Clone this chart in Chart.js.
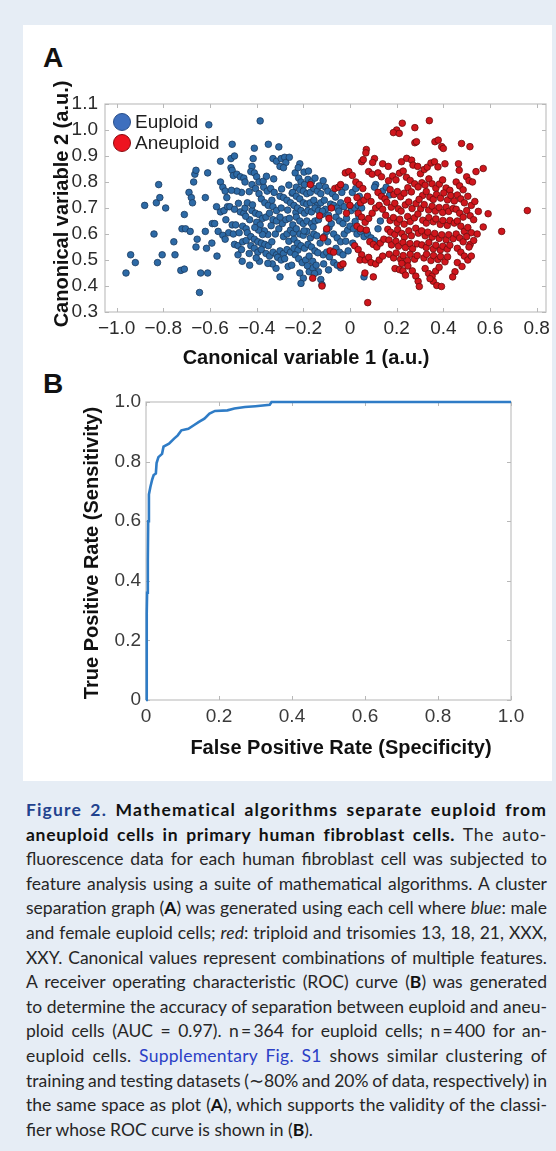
<!DOCTYPE html>
<html>
<head>
<meta charset="utf-8">
<script src="https://cdn.jsdelivr.net/npm/chart.js@4.4.0/dist/chart.umd.min.js"></script>
<style>
  html, body { margin: 0; padding: 0; }
  body {
    width: 556px; height: 1151px; position: relative; overflow: hidden;
    background: #e6edf5;
    font-family: 'Liberation Sans', Arial, sans-serif;
  }
  #panel { position: absolute; left: 23px; top: 25px; width: 529px; height: 756px; background: #fff; }
  .plot { position: absolute; left: 0; width: 556px; }
  #scatterBox { top: 0; height: 372px; }
  #rocBox { top: 372px; height: 408px; }
  .tag { position: absolute; font: bold 28px 'Liberation Sans', Arial, sans-serif; color: #111; line-height: 28px; }
  #caption {
    position: absolute; left: 26px; top: 798px; width: 521px;
    font-family: Lato, 'Open Sans', sans-serif; font-size: 17.5px; line-height: 24.6px; color: #262626;
  }
  #caption .ln { white-space: nowrap; }
  #caption b { color: #111; }
  #caption .fig { color: #22428e; }
  #caption .link { color: #2c3fc6; }
</style>
</head>
<body>
<div id="panel"></div>
<div class="tag" style="left:43px; top:44px;">A</div>
<div class="tag" style="left:43px; top:370px;">B</div>
<div class="plot" id="scatterBox"><canvas id="scatter"></canvas></div>
<div class="plot" id="rocBox"><canvas id="roc"></canvas></div>

<div id="caption">
  <div class="ln"><b class="fig">Figure 2.</b> <b>Mathematical algorithms separate euploid from</b></div>
  <div class="ln"><b>aneuploid cells in primary human fibroblast cells.</b> The auto-</div>
  <div class="ln">fluorescence data for each human fibroblast cell was subjected to</div>
  <div class="ln">feature analysis using a suite of mathematical algorithms. A cluster</div>
  <div class="ln">separation graph (<b>A</b>) was generated using each cell where <i>blue</i>: male</div>
  <div class="ln">and female euploid cells; <i>red</i>: triploid and trisomies 13, 18, 21, XXX,</div>
  <div class="ln">XXY. Canonical values represent combinations of multiple features.</div>
  <div class="ln">A receiver operating characteristic (ROC) curve (<b>B</b>) was generated</div>
  <div class="ln">to determine the accuracy of separation between euploid and aneu-</div>
  <div class="ln">ploid cells (AUC = 0.97). n&#8201;=&#8201;364 for euploid cells; n&#8201;=&#8201;400 for an-</div>
  <div class="ln">euploid cells. <span class="link">Supplementary Fig. S1</span> shows similar clustering of</div>
  <div class="ln">training and testing datasets (&#8764;80% and 20% of data, respectively) in</div>
  <div class="ln">the same space as plot (<b>A</b>), which supports the validity of the classi-</div>
  <div class="ln last">fier whose ROC curve is shown in (<b>B</b>).</div>
</div>

<script>
'use strict';

// ---- panel A: canonical variables per cell ----
var euploidPoints = [
  [-0.96,0.45],[-0.94,0.52],[-0.92,0.49],[-0.88,0.71],[-0.84,0.60],[-0.82,0.79],[-0.83,0.72],[-0.815,0.74],
  [-0.825,0.49],[-0.805,0.52],[-0.79,0.70],[-0.755,0.57],[-0.75,0.52],[-0.71,0.675],[-0.72,0.62],[-0.705,0.62],
  [-0.685,0.61],[-0.725,0.46],[-0.71,0.465],[-0.69,0.76],[-0.68,0.74],[-0.675,0.72],[-0.665,0.83],[-0.66,0.845],
  [-0.67,0.80],[-0.655,0.58],[-0.66,0.55],[-0.64,0.45],[-0.61,0.45],[-0.645,0.375],[-0.62,0.61],[-0.605,1.02],
  [-0.61,0.835],[-0.62,0.74],[-0.615,0.545],
  [-0.59,0.64],[-0.58,0.64],[-0.565,0.61],[-0.57,0.515],[-0.555,0.80],[-0.545,0.78],[-0.535,0.765],[-0.555,0.88],
  [-0.555,0.685],[-0.54,0.69],[-0.525,0.705],[-0.545,0.595],[-0.535,0.58],[-0.505,0.945],[-0.51,0.89],[-0.495,0.90],
  [-0.51,0.855],[-0.505,0.845],[-0.50,0.825],[-0.485,0.83],[-0.515,0.705],[-0.495,0.695],[-0.505,0.635],[-0.49,0.635],
  [-0.52,0.605],[-0.50,0.60],[-0.495,0.56],[-0.48,0.555],[-0.48,0.52],[-0.465,0.54],[-0.47,0.82],[-0.455,0.815],
  [-0.45,0.80],[-0.465,0.76],[-0.47,0.685],[-0.455,0.68],[-0.45,0.70],[-0.44,0.72],[-0.46,0.63],[-0.445,0.62],
  [-0.46,0.57],[-0.445,0.575],[-0.485,0.765],[-0.508,0.768],[-0.528,0.74],[-0.572,0.705],[-0.592,0.565],
  [-0.475,0.605],[-0.432,0.525],[-0.462,0.495],[-0.532,0.655],[-0.478,0.718],
  [-0.43,0.48],[-0.41,0.93],[-0.415,0.89],[-0.42,0.86],[-0.425,0.84],[-0.41,0.835],[-0.40,0.82],[-0.39,0.80],
  [-0.42,0.79],[-0.405,0.775],[-0.385,1.035],[-0.35,0.945],[-0.305,0.935],[-0.33,0.89],[-0.315,0.88],[-0.295,0.89],
  [-0.28,0.895],[-0.275,0.875],[-0.26,0.895],[-0.30,0.86],[-0.285,0.855],[-0.215,0.87],[-0.37,0.78],[-0.355,0.765],
  [-0.34,0.775],[-0.325,0.76],[-0.39,0.755],[-0.38,0.735],[-0.365,0.72],[-0.35,0.71],[-0.335,0.73],[-0.30,0.745],
  [-0.285,0.74],[-0.27,0.73],[-0.255,0.72],[-0.24,0.71],[-0.42,0.69],[-0.405,0.68],[-0.39,0.675],[-0.375,0.66],
  [-0.36,0.665],[-0.345,0.68],[-0.33,0.655],[-0.40,0.645],[-0.385,0.635],[-0.43,0.655],[-0.44,0.605],[-0.425,0.59],
  [-0.41,0.58],[-0.395,0.57],[-0.38,0.565],[-0.365,0.56],[-0.35,0.555],[-0.335,0.57],[-0.425,0.555],[-0.41,0.545],
  [-0.395,0.53],[-0.38,0.54],[-0.36,0.525],[-0.345,0.515],[-0.33,0.53],[-0.315,0.52],[-0.30,0.535],[-0.285,0.525],
  [-0.27,0.54],[-0.255,0.53],[-0.24,0.545],[-0.31,0.51],[-0.295,0.50],[-0.28,0.505],[-0.30,0.435],[-0.265,0.475],
  [-0.25,0.48],[-0.32,0.60],[-0.305,0.62],[-0.29,0.64],[-0.275,0.655],[-0.26,0.66],[-0.315,0.65],[-0.30,0.665],
  [-0.285,0.59],[-0.27,0.60],[-0.255,0.615],[-0.33,0.705],[-0.315,0.69],[-0.295,0.70],
  [-0.432,0.763],[-0.418,0.712],[-0.447,0.668],[-0.372,0.803],[-0.358,0.822],[-0.327,0.812],[-0.262,0.788],
  [-0.248,0.757],[-0.293,0.773],[-0.232,0.683],[-0.267,0.692],[-0.338,0.632],[-0.352,0.598],[-0.367,0.612],
  [-0.243,0.603],[-0.262,0.572],[-0.223,0.538],[-0.317,0.468],[-0.333,0.485],[-0.388,0.495],[-0.402,0.508],
  [-0.352,0.487],[-0.375,0.598],[-0.392,0.615],[-0.408,0.625],
  [-0.235,0.835],[-0.22,0.815],[-0.21,0.80],[-0.195,0.79],[-0.18,0.81],[-0.165,0.80],[-0.15,0.815],[-0.23,0.78],
  [-0.215,0.77],[-0.20,0.765],[-0.185,0.755],[-0.17,0.76],[-0.155,0.775],[-0.14,0.765],[-0.125,0.755],[-0.245,0.76],
  [-0.23,0.745],[-0.215,0.735],[-0.20,0.72],[-0.185,0.715],[-0.17,0.72],[-0.155,0.73],[-0.14,0.71],[-0.125,0.72],
  [-0.11,0.73],[-0.225,0.70],[-0.21,0.69],[-0.195,0.68],[-0.18,0.69],[-0.165,0.685],[-0.15,0.70],[-0.135,0.69],
  [-0.12,0.675],[-0.105,0.695],[-0.23,0.665],[-0.215,0.65],[-0.20,0.64],[-0.185,0.65],[-0.165,0.64],[-0.15,0.65],
  [-0.135,0.655],[-0.245,0.635],[-0.23,0.62],[-0.215,0.60],[-0.20,0.595],[-0.185,0.61],[-0.17,0.585],[-0.155,0.60],
  [-0.24,0.58],[-0.225,0.565],[-0.21,0.555],[-0.195,0.545],[-0.18,0.56],[-0.165,0.55],[-0.15,0.535],[-0.235,0.52],
  [-0.22,0.505],[-0.205,0.49],[-0.19,0.50],[-0.175,0.515],[-0.16,0.495],[-0.215,0.45],[-0.20,0.43],[-0.21,0.41],
  [-0.175,0.455],[-0.16,0.47],[-0.145,0.48],[-0.135,0.455],[-0.125,0.425],[-0.12,0.405],[-0.115,0.52],[-0.10,0.53],
  [-0.095,0.57],[-0.11,0.59],[-0.10,0.61],[-0.09,0.625],[-0.08,0.64],[-0.105,0.78],[-0.095,0.765],[-0.115,0.805],
  [-0.222,0.855],[-0.197,0.838],[-0.178,0.842],[-0.132,0.785],[-0.118,0.688],[-0.092,0.672],[-0.083,0.715],
  [-0.197,0.612],[-0.158,0.627],[-0.142,0.593],[-0.128,0.565],[-0.138,0.528],[-0.183,0.478],[-0.152,0.448],
  [-0.088,0.512],[-0.092,0.462],[-0.113,0.485],
  [-0.07,0.71],[-0.055,0.70],[-0.04,0.72],[-0.025,0.705],[-0.06,0.665],[-0.045,0.65],[-0.03,0.64],[-0.015,0.66],
  [-0.07,0.60],[-0.055,0.585],[-0.04,0.57],[-0.025,0.60],[-0.01,0.615],[-0.06,0.545],[-0.045,0.53],[-0.03,0.52],
  [-0.07,0.49],[-0.055,0.48],[-0.04,0.47],[0.005,0.69],[0.02,0.70],[0.035,0.71],[0.05,0.70],[0.0,0.63],
  [0.015,0.62],[0.03,0.60],[0.045,0.61],[0.06,0.59],[0.075,0.60],[0.09,0.585],[0.105,0.575],[0.01,0.76],
  [0.025,0.775],[0.04,0.745],[0.06,0.435],[0.11,0.79],[0.105,0.78],[0.14,0.765],[0.155,0.78],[0.17,0.75],
  [0.12,0.62],[0.13,0.65],[-0.02,0.78],[-0.035,0.76],[-0.075,0.755],[-0.062,0.742],[-0.048,0.688],
  [-0.018,0.572],[-0.008,0.535],[0.012,0.565],[0.022,0.648],[0.038,0.668]
];

var aneuploidPoints = [
  [-0.17,0.79],[-0.16,0.43],[-0.13,0.67],[-0.12,0.40],[-0.115,0.585],[-0.10,0.62],[-0.09,0.66],[-0.08,0.70],
  [-0.065,0.775],[-0.05,0.78],[-0.04,0.79],[-0.085,0.535],[-0.07,0.53],[-0.04,0.48],[-0.03,0.485],[-0.02,0.835],
  [-0.005,0.84],[0.01,0.825],[-0.01,0.73],[0.0,0.71],[-0.015,0.68],
  [0.025,0.80],[0.04,0.79],[0.055,0.775],[0.07,0.925],[0.068,0.912],[0.05,0.878],[0.057,0.886],[0.105,0.89],
  [0.097,0.875],[0.14,0.87],[0.164,0.86],[0.08,0.84],[0.095,0.83],[0.12,0.835],[0.135,0.82],[0.03,0.74],
  [0.045,0.72],[0.06,0.73],[0.075,0.745],[0.09,0.725],[0.035,0.68],[0.05,0.665],[0.065,0.645],[0.08,0.66],
  [0.095,0.68],[0.11,0.70],[0.125,0.71],[0.14,0.695],[0.03,0.63],[0.045,0.62],[0.07,0.615],[0.085,0.57],
  [0.10,0.56],[0.115,0.55],[0.13,0.565],[0.145,0.58],[0.02,0.555],[0.035,0.54],[0.05,0.52],[0.043,0.50],
  [0.065,0.50],[0.08,0.51],[0.09,0.49],[0.11,0.485],[0.125,0.50],[0.14,0.515],[0.064,0.45],[0.10,0.435],
  [0.076,0.336],[0.12,0.76],[0.135,0.745],[0.15,0.735],
  [0.20,1.00],[0.186,0.99],[0.211,0.987],[0.224,1.026],[0.278,1.009],[0.278,0.951],[0.285,0.955],[0.221,0.878],
  [0.243,0.891],[0.264,0.884],[0.27,0.865],[0.29,0.86],
  [0.165,0.805],[0.183,0.823],[0.197,0.808],[0.212,0.834],[0.228,0.842],[0.242,0.818],[0.258,0.806],[0.302,0.832],
  [0.318,0.848],[0.331,0.857],[0.347,0.873],[0.362,0.878],[0.377,0.858],[0.308,0.797],[0.322,0.788],[0.338,0.812],
  [0.352,0.793],[0.368,0.776],[0.383,0.792],[0.397,0.808],[0.412,0.777],[0.428,0.768],
  [0.172,0.771],[0.188,0.752],[0.203,0.763],[0.217,0.743],[0.232,0.757],[0.248,0.778],[0.263,0.762],[0.277,0.793],
  [0.292,0.781],[0.311,0.748],[0.327,0.763],[0.342,0.742],[0.357,0.733],[0.371,0.752],[0.388,0.738],[0.402,0.758],
  [0.418,0.731],[0.432,0.748],[0.447,0.727],
  [0.158,0.722],[0.177,0.703],[0.192,0.718],[0.207,0.697],[0.219,0.688],[0.237,0.712],[0.252,0.723],[0.266,0.698],
  [0.283,0.717],[0.296,0.733],[0.303,0.697],[0.318,0.713],[0.337,0.692],[0.352,0.707],[0.366,0.688],[0.382,0.702],
  [0.397,0.683],[0.412,0.703],[0.423,0.687],[0.442,0.698],
  [0.153,0.672],[0.172,0.652],[0.186,0.663],[0.202,0.643],[0.213,0.657],[0.232,0.638],[0.247,0.667],[0.258,0.648],
  [0.276,0.662],[0.291,0.677],[0.312,0.653],[0.327,0.642],[0.338,0.663],[0.357,0.647],[0.368,0.658],[0.387,0.637],
  [0.398,0.652],[0.417,0.633],[0.428,0.652],[0.447,0.642],
  [0.162,0.618],[0.174,0.607],[0.192,0.598],[0.204,0.617],[0.222,0.602],[0.233,0.588],[0.252,0.612],[0.263,0.593],
  [0.282,0.622],[0.293,0.603],[0.307,0.612],[0.322,0.593],[0.333,0.607],[0.352,0.588],[0.363,0.602],[0.382,0.583],
  [0.393,0.597],[0.412,0.578],[0.423,0.597],[0.442,0.582],
  [0.167,0.577],[0.178,0.558],[0.197,0.572],[0.208,0.553],[0.227,0.567],[0.238,0.548],[0.257,0.563],[0.268,0.543],
  [0.287,0.562],[0.308,0.558],[0.327,0.548],[0.338,0.567],[0.357,0.543],[0.368,0.557],[0.387,0.538],[0.398,0.553],
  [0.417,0.542],[0.428,0.557],
  [0.168,0.522],[0.187,0.508],[0.198,0.527],[0.217,0.503],[0.228,0.517],[0.247,0.498],[0.258,0.522],[0.277,0.503],
  [0.288,0.517],[0.317,0.508],[0.328,0.522],[0.347,0.498],[0.358,0.517],[0.377,0.502],[0.388,0.513],[0.407,0.493],
  [0.418,0.512],
  [0.193,0.467],[0.212,0.463],[0.227,0.458],[0.248,0.477],[0.267,0.458],[0.282,0.438],[0.238,0.442],[0.222,0.487],
  [0.292,0.418],[0.297,0.398],[0.322,0.467],[0.337,0.448],[0.352,0.438],[0.367,0.457],[0.382,0.472],[0.357,0.418],
  [0.372,0.402],[0.392,0.398],[0.343,0.428],
  [0.34,1.036],[0.364,0.955],[0.378,0.961],[0.393,0.936],[0.40,0.929],[0.407,0.87],
  [0.465,0.87],[0.478,0.948],[0.514,0.936],[0.468,0.845],[0.50,0.82],[0.54,0.84],[0.571,0.852],[0.455,0.80],
  [0.47,0.785],[0.485,0.77],[0.51,0.805],[0.525,0.80],[0.46,0.75],[0.475,0.735],[0.49,0.72],[0.505,0.745],
  [0.52,0.71],[0.535,0.725],[0.55,0.687],[0.592,0.678],[0.455,0.695],[0.47,0.68],[0.485,0.665],[0.50,0.69],
  [0.515,0.67],[0.53,0.655],[0.46,0.65],[0.475,0.63],[0.49,0.61],[0.505,0.625],[0.52,0.605],[0.545,0.60],
  [0.571,0.627],[0.65,0.61],[0.76,0.69],[0.455,0.60],[0.47,0.585],[0.485,0.57],[0.50,0.59],[0.515,0.56],
  [0.53,0.575],[0.46,0.545],[0.475,0.53],[0.49,0.515],[0.505,0.50],[0.52,0.515],[0.46,0.49],[0.48,0.475],
  [0.45,0.455],[0.44,0.435],[0.51,0.55]
];

var cv1Ticks = [-1.0, -0.8, -0.6, -0.4, -0.2, 0, 0.2, 0.4, 0.6, 0.8];
var cv1Labels = ['\u22121.0', '\u22120.8', '\u22120.6', '\u22120.4', '\u22120.2', '0', '0.2', '0.4', '0.6', '0.8'];
var cv2Ticks = [1.1, 1.0, 0.9, 0.8, 0.7, 0.6, 0.5, 0.4, 0.3];
var cv2Labels = ['1.1', '1.0', '0.9', '0.8', '0.7', '0.6', '0.5', '0.4', '0.3'];

// ---- panel B: ROC curve ----
var rocFpr = [0, 0.002, 0.003, 0.005, 0.006, 0.008, 0.012, 0.017, 0.021, 0.027, 0.029, 0.034, 0.044, 0.048,
  0.063, 0.077, 0.087, 0.097, 0.116, 0.131, 0.145, 0.16, 0.174, 0.189, 0.223, 0.242, 0.271, 0.30, 0.339, 0.344, 1.0];
var rocTpr = [0, 0.29, 0.36, 0.47, 0.60, 0.69, 0.715, 0.74, 0.755, 0.76, 0.795, 0.815, 0.826, 0.85,
  0.86, 0.877, 0.888, 0.905, 0.91, 0.922, 0.933, 0.944, 0.961, 0.97, 0.972, 0.978, 0.983, 0.986, 0.991, 1.0, 1.0];
var rateTicks = [0, 0.2, 0.4, 0.6, 0.8, 1.0];
var rateLabels = ['0', '0.2', '0.4', '0.6', '0.8', '1.0'];

var AXIS_FONT = "'Liberation Sans', Arial, sans-serif";

function toXY(p) { return { x: p[0], y: p[1] }; }

function fixedTicks(values) {
  return function(scale) {
    scale.ticks = values.map(function(v) { return { value: v }; });
  };
}

function labelFrom(values, labels) {
  return function(value) {
    for (var i = 0; i < values.length; i++) {
      if (Math.abs(values[i] - value) < 1e-6) return labels[i];
    }
    return '';
  };
}

// light box round the plot area with short inward ticks (matlab style)
var plotFrame = {
  id: 'plotFrame',
  beforeDatasetsDraw: function(chart) {
    var ctx = chart.ctx, a = chart.chartArea;
    var sx = chart.scales.x, sy = chart.scales.y;
    ctx.save();
    ctx.strokeStyle = '#c6c6c6';
    ctx.lineWidth = 1.3;
    ctx.strokeRect(a.left, a.top, a.right - a.left, a.bottom - a.top);
    ctx.strokeStyle = '#b8b8b8';
    ctx.lineWidth = 1;
    ctx.beginPath();
    sx.ticks.forEach(function(t) {
      var px = Math.round(sx.getPixelForValue(t.value)) + 0.5;
      ctx.moveTo(px, a.bottom); ctx.lineTo(px, a.bottom - 4);
      ctx.moveTo(px, a.top); ctx.lineTo(px, a.top + 4);
    });
    sy.ticks.forEach(function(t) {
      var py = Math.round(sy.getPixelForValue(t.value)) + 0.5;
      ctx.moveTo(a.left, py); ctx.lineTo(a.left + 4, py);
      ctx.moveTo(a.right, py); ctx.lineTo(a.right - 4, py);
    });
    ctx.stroke();
    ctx.restore();
  }
};

// axis titles, placed relative to the plot area
var axisTitles = {
  id: 'axisTitles',
  afterDraw: function(chart, args, opts) {
    var ctx = chart.ctx, a = chart.chartArea;
    ctx.save();
    ctx.fillStyle = '#111';
    ctx.font = 'bold 20px ' + AXIS_FONT;
    ctx.textAlign = 'center';
    ctx.textBaseline = 'middle';
    ctx.fillText(opts.x.text, a.left + opts.x.dx, a.bottom + opts.x.dy);
    ctx.translate(a.left - opts.y.dx, (a.top + a.bottom) / 2 + opts.y.dy);
    ctx.rotate(-Math.PI / 2);
    ctx.fillText(opts.y.text, 0, 0);
    ctx.restore();
  }
};

// legend drawn inside the top-left corner of the plot
var insideLegend = {
  id: 'insideLegend',
  afterDraw: function(chart, args, opts) {
    if (!opts.display) return;
    var ctx = chart.ctx, a = chart.chartArea;
    ctx.save();
    ctx.font = '19px ' + AXIS_FONT;
    ctx.textBaseline = 'middle';
    ctx.textAlign = 'left';
    opts.items.forEach(function(item, i) {
      var cx = a.left + 17, cy = a.top + 18 + i * 21;
      ctx.beginPath();
      ctx.arc(cx, cy, 8.5, 0, Math.PI * 2);
      ctx.fillStyle = item.fill;
      ctx.fill();
      ctx.lineWidth = 1;
      ctx.strokeStyle = item.stroke;
      ctx.stroke();
      ctx.fillStyle = '#1e1e1e';
      ctx.fillText(item.label, a.left + 30, cy + 1);
    });
    ctx.restore();
  }
};

Chart.defaults.font.family = AXIS_FONT;
Chart.defaults.animation = false;

new Chart(document.getElementById('scatter'), {
  type: 'scatter',
  data: {
    datasets: [{
      label: 'Aneuploid',
      data: aneuploidPoints.map(toXY),
      backgroundColor: '#d0161d',
      borderColor: '#6b0c0c',
      borderWidth: 0.8,
      pointRadius: 3.3,
      order: 0
    }, {
      label: 'Euploid',
      data: euploidPoints.map(toXY),
      backgroundColor: '#2d6aa6',
      borderColor: '#1b3a5e',
      borderWidth: 0.8,
      pointRadius: 3.3,
      order: 1
    }]
  },
  options: {
    responsive: true,
    maintainAspectRatio: false,
    layout: { padding: { top: 104, right: 10, left: 0, bottom: 0 } },
    plugins: {
      legend: { display: false },
      tooltip: { enabled: false },
      axisTitles: {
        x: { text: 'Canonical variable 1 (a.u.)', dx: 201, dy: 46 },
        y: { text: 'Canonical variable 2 (a.u.)', dx: 43, dy: -4 }
      },
      insideLegend: {
        display: true,
        items: [
          { label: 'Euploid', fill: '#3e6fbe', stroke: '#2a4f8a' },
          { label: 'Aneuploid', fill: '#ee1420', stroke: '#8a0a10' }
        ]
      }
    },
    scales: {
      x: {
        type: 'linear',
        min: -1.05,
        max: 0.84,
        afterBuildTicks: fixedTicks(cv1Ticks),
        afterFit: function(s) { s.height = 60; },
        grid: { display: false, drawTicks: false },
        border: { display: false },
        ticks: {
          color: '#2b2b2b',
          font: { size: 19 },
          padding: 5,
          maxRotation: 0,
          autoSkip: false,
          callback: labelFrom(cv1Ticks, cv1Labels)
        }
      },
      y: {
        type: 'linear',
        min: 0.3,
        max: 1.1,
        afterBuildTicks: fixedTicks(cv2Ticks),
        afterFit: function(s) { s.width = 105; },
        grid: { display: false, drawTicks: false },
        border: { display: false },
        ticks: {
          color: '#2b2b2b',
          font: { size: 19 },
          padding: 7,
          autoSkip: false,
          callback: labelFrom(cv2Ticks, cv2Labels)
        }
      }
    }
  },
  plugins: [plotFrame, axisTitles, insideLegend]
});

new Chart(document.getElementById('roc'), {
  type: 'scatter',
  data: {
    datasets: [{
      label: 'ROC',
      data: rocFpr.map(function(f, i) { return { x: f, y: rocTpr[i] }; }),
      showLine: true,
      borderColor: '#2f7cc6',
      borderWidth: 2.6,
      pointRadius: 0,
      tension: 0,
      clip: 4
    }]
  },
  options: {
    responsive: true,
    maintainAspectRatio: false,
    layout: { padding: { top: 30, right: 45, left: 0, bottom: 0 } },
    plugins: {
      legend: { display: false },
      tooltip: { enabled: false },
      axisTitles: {
        x: { text: 'False Positive Rate (Specificity)', dx: 195, dy: 48 },
        y: { text: 'True Positive Rate (Sensitivity)', dx: 54, dy: 2 }
      },
      insideLegend: { display: false }
    },
    scales: {
      x: {
        type: 'linear',
        min: 0,
        max: 1,
        afterBuildTicks: fixedTicks(rateTicks),
        afterFit: function(s) { s.height = 80; },
        grid: { display: false, drawTicks: false },
        border: { display: false },
        ticks: {
          color: '#3a3a3a',
          font: { size: 19 },
          padding: 5,
          maxRotation: 0,
          autoSkip: false,
          callback: labelFrom(rateTicks, rateLabels)
        }
      },
      y: {
        type: 'linear',
        min: 0,
        max: 1,
        afterBuildTicks: fixedTicks(rateTicks),
        afterFit: function(s) { s.width = 146; },
        grid: { display: false, drawTicks: false },
        border: { display: false },
        ticks: {
          color: '#3a3a3a',
          font: { size: 19 },
          padding: 5,
          autoSkip: false,
          callback: labelFrom(rateTicks, rateLabels)
        }
      }
    }
  },
  plugins: [plotFrame, axisTitles, insideLegend]
});

// spread each caption line to the full column width, like justified print;
// lines that are far too short also get a little letter spacing
function naturalWidth(el) {
  var range = document.createRange();
  range.selectNodeContents(el);
  return range.getBoundingClientRect().width;
}

function justifyCaption() {
  var lines = document.querySelectorAll('#caption .ln');
  for (var i = 0; i < lines.length; i++) {
    var ln = lines[i];
    ln.style.wordSpacing = '0px';
    ln.style.letterSpacing = '0px';
    if (ln.classList.contains('last')) continue;
    var gaps = (ln.textContent.trim().match(/ +/g) || []).length;
    if (!gaps) continue;
    var target = ln.clientWidth;
    var extra = target - naturalWidth(ln);
    var maxGap = 3;
    if (extra > maxGap * gaps) {
      var chars = ln.textContent.trim().length;
      ln.style.letterSpacing = ((extra - maxGap * gaps) / chars) + 'px';
    }
    ln.style.wordSpacing = ((target - naturalWidth(ln)) / gaps) + 'px';
  }
}
justifyCaption();
if (document.fonts && document.fonts.ready) document.fonts.ready.then(justifyCaption);
</script>
</body>
</html>
